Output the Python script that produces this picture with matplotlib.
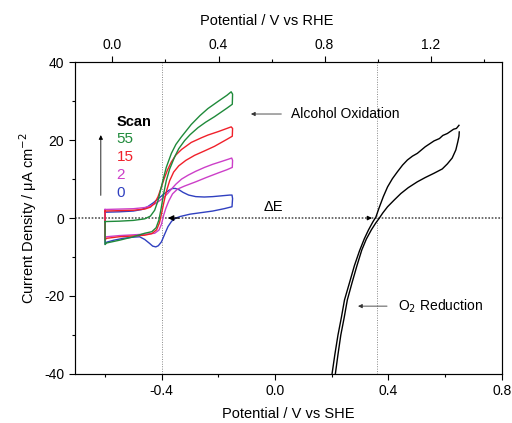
import matplotlib
matplotlib.use("Agg")
import matplotlib.pyplot as plt
from matplotlib.ticker import MultipleLocator

plt.rcParams['font.family'] = ['Liberation Sans', 'DejaVu Sans']
plt.rcParams['axes.unicode_minus'] = False

# CV loops (V vs SHE, uA cm-2): anodic sweep, then cathodic sweep back
scan0_x = [-0.600, -0.550, -0.500, -0.470, -0.450, -0.430, -0.410, -0.390, -0.375, -0.362, -0.352, -0.340,
           -0.325, -0.305, -0.280, -0.250, -0.220, -0.190, -0.160, -0.152, -0.150, -0.152, -0.180, -0.220,
           -0.260, -0.300, -0.335, -0.350, -0.365, -0.378, -0.390, -0.401, -0.412, -0.421, -0.432, -0.443,
           -0.460, -0.478, -0.500, -0.536, -0.570, -0.595, -0.600, -0.600]
scan0_y = [1.5, 1.6, 1.8, 2.2, 2.9, 3.9, 5.1, 6.3, 7.1, 7.6, 7.6, 7.3,
           6.6, 5.9, 5.5, 5.4, 5.5, 5.7, 5.9, 5.9, 5.0, 2.9, 2.4, 1.8,
           1.4, 1.0, 0.4, 0.0, -0.8, -2.2, -4.2, -6.1, -7.1, -7.4, -7.2, -6.5,
           -5.5, -4.8, -4.9, -5.2, -5.7, -6.2, -6.7, 1.5]

scan2_x = [-0.600, -0.550, -0.500, -0.460, -0.440, -0.420, -0.405, -0.390, -0.378, -0.365, -0.350, -0.330,
           -0.307, -0.280, -0.249, -0.220, -0.190, -0.165, -0.153, -0.150, -0.151, -0.170, -0.200, -0.243,
           -0.280, -0.320, -0.345, -0.362, -0.375, -0.385, -0.393, -0.401, -0.410, -0.425, -0.450, -0.500,
           -0.550, -0.595, -0.600, -0.600]
scan2_y = [2.2, 2.3, 2.4, 2.7, 3.1, 3.8, 4.6, 5.5, 6.4, 7.5, 8.7, 10.0,
           11.0, 12.0, 13.0, 13.8, 14.5, 15.1, 15.4, 14.8, 13.0, 12.4, 11.6, 10.4,
           9.3, 8.2, 7.4, 6.2, 4.4, 2.6, 0.8, -1.6, -3.1, -3.9, -4.1, -4.3,
           -4.5, -4.8, -5.0, 2.2]

scan15_x = [-0.600, -0.550, -0.500, -0.460, -0.440, -0.425, -0.413, -0.402, -0.392, -0.380, -0.366, -0.350,
            -0.330, -0.296, -0.260, -0.237, -0.200, -0.170, -0.155, -0.150, -0.151, -0.170, -0.214, -0.250,
            -0.284, -0.315, -0.340, -0.358, -0.372, -0.383, -0.392, -0.400, -0.408, -0.418, -0.435, -0.460,
            -0.500, -0.550, -0.595, -0.600, -0.600]
scan15_y = [1.8, 1.9, 2.0, 2.3, 2.8, 3.8, 5.5, 7.8, 10.0, 12.3, 14.4, 16.2,
            17.6, 19.4, 20.6, 21.3, 22.2, 23.0, 23.4, 23.0, 21.0, 20.2, 18.4, 17.2,
            16.1, 14.8, 13.4, 11.8, 9.6, 7.0, 4.2, 1.4, -1.2, -3.0, -4.0, -4.4,
            -4.6, -4.8, -5.2, -5.6, 1.8]

scan55_x = [-0.600, -0.550, -0.500, -0.460, -0.440, -0.425, -0.413, -0.403, -0.393, -0.384, -0.366, -0.350,
            -0.331, -0.296, -0.265, -0.237, -0.200, -0.170, -0.155, -0.150, -0.151, -0.170, -0.214, -0.245,
            -0.272, -0.300, -0.319, -0.340, -0.355, -0.372, -0.384, -0.394, -0.402, -0.410, -0.420, -0.435,
            -0.460, -0.500, -0.550, -0.595, -0.600, -0.600]
scan55_y = [-0.9, -0.8, -0.6, -0.2, 0.5, 2.0, 4.5, 7.5, 10.5, 13.0, 16.6, 18.9,
            20.8, 24.0, 26.3, 28.1, 30.0, 31.5, 32.4, 31.8, 29.2, 28.2, 26.0, 24.6,
            23.2, 21.4, 19.9, 17.8, 15.6, 12.6, 9.6, 6.0, 2.5, -0.5, -2.5, -3.5,
            -3.9, -4.8, -5.7, -6.4, -6.8, -0.9]

# O2 reduction, two sweeps
orr_a_x = [0.197, 0.211, 0.222, 0.234, 0.245, 0.263, 0.280, 0.298, 0.315, 0.330, 0.345, 0.356, 0.367,
           0.382, 0.397, 0.414, 0.432, 0.450, 0.467, 0.485, 0.502, 0.530, 0.561, 0.580, 0.592, 0.608,
           0.630, 0.640, 0.649]
orr_a_y = [-42, -35, -30, -25.5, -21, -16.5, -12.2, -8.4, -5.3, -3.0, -1.0, 0.3, 2.6,
           5.5, 8.0, 10.1, 11.9, 13.6, 14.9, 15.9, 16.6, 18.3, 19.8, 20.4, 21.2, 21.7,
           22.8, 23.0, 23.8]
orr_b_x = [0.209, 0.222, 0.232, 0.244, 0.255, 0.272, 0.289, 0.306, 0.322, 0.340, 0.355, 0.367, 0.380,
           0.397, 0.420, 0.444, 0.470, 0.502, 0.530, 0.561, 0.590, 0.608, 0.625, 0.638, 0.645, 0.649, 0.650]
orr_b_y = [-42, -35, -30, -25.5, -21, -16.5, -12.2, -8.2, -5.4, -3.0, -1.3, -0.1, 1.3,
           2.9, 4.6, 6.3, 7.8, 9.3, 10.4, 11.5, 12.6, 13.9, 15.4, 17.5, 19.6, 21.0, 22.1]

scan_labels = ['55', '15', '2', '0']
scan_colors = ['#1f8a3a', '#f0202a', '#cc3fc8', '#3040c0']

fig = plt.figure(figsize=(5.12, 4.23), dpi=100)
ax = fig.add_axes([0.146, 0.116, 0.834, 0.737])

ax.axhline(0, color='#555555', lw=1.2, ls=(0, (1, 1)), zorder=1)
ax.axvline(-0.4, color='#888888', lw=0.7, ls=(0, (1, 1.5)), zorder=1)
ax.axvline(0.359, color='#888888', lw=0.7, ls=(0, (1, 1.5)), zorder=1)

for xs, ys, c in [(scan0_x, scan0_y, scan_colors[3]), (scan2_x, scan2_y, scan_colors[2]),
                  (scan15_x, scan15_y, scan_colors[1]), (scan55_x, scan55_y, scan_colors[0])]:
    ax.plot(xs, ys, color=c, lw=1.0)
ax.plot(orr_a_x, orr_a_y, color='black', lw=1.0)
ax.plot(orr_b_x, orr_b_y, color='black', lw=1.0)

ax.set_xlim(-0.707, 0.8)
ax.set_ylim(-40, 40)
ax.xaxis.set_major_locator(MultipleLocator(0.4))
ax.xaxis.set_minor_locator(MultipleLocator(0.2))
ax.yaxis.set_major_locator(MultipleLocator(20))
ax.yaxis.set_minor_locator(MultipleLocator(10))
ax.xaxis.set_major_formatter(lambda v, p: f"{v:.1f}")
ax.tick_params(which='major', direction='out', length=4, width=0.8, labelsize=10)
ax.tick_params(which='minor', direction='out', length=2.5, width=0.8)
ax.set_xlabel("Potential / V vs SHE", fontsize=10.5, labelpad=6)
ax.set_ylabel("Current Density / μA cm$^{-2}$", fontsize=10.5, labelpad=4)
for s in ax.spines.values():
    s.set_color('#444444')

ax2 = ax.twiny()
ax2.set_xlim(-0.142, 1.468)
ax2.xaxis.set_major_locator(MultipleLocator(0.4))
ax2.xaxis.set_minor_locator(MultipleLocator(0.2))
ax2.xaxis.set_major_formatter(lambda v, p: f"{v:.1f}")
ax2.tick_params(which='major', direction='out', length=4, width=0.8, labelsize=10)
ax2.tick_params(which='minor', direction='out', length=2.5, width=0.8)
ax2.set_xlabel("Potential / V vs RHE", fontsize=10.5, labelpad=8)
ax2.xaxis.set_label_coords(0.45, 1.12)

# scan legend
ax.text(-0.56, 24.6, "Scan", fontsize=10.5, fontweight='bold', va='center')
for i, (lab, c) in enumerate(zip(scan_labels, scan_colors)):
    ax.text(-0.56, 20.3 - 4.6 * i, lab, color=c, fontsize=11, va='center')
ax.annotate('', xy=(-0.615, 22.0), xytext=(-0.615, 5.1),
            arrowprops=dict(arrowstyle='-|>', color='black', lw=0.6, mutation_scale=6))

# labels and arrows
ax.annotate('', xy=(-0.095, 26.7), xytext=(0.032, 26.7),
            arrowprops=dict(arrowstyle='-|>', color='#333333', lw=0.6, mutation_scale=6))
ax.text(0.056, 26.7, "Alcohol Oxidation", fontsize=10, va='center')
ax.annotate('', xy=(0.283, -22.6), xytext=(0.405, -22.6),
            arrowprops=dict(arrowstyle='-|>', color='#333333', lw=0.6, mutation_scale=6))
ax.text(0.433, -22.6, "O$_2$ Reduction", fontsize=10, va='center')
ax.annotate('', xy=(-0.388, 0), xytext=(-0.33, 0),
            arrowprops=dict(arrowstyle='-|>', color='black', lw=0.9, mutation_scale=8))
ax.annotate('', xy=(0.352, 0), xytext=(0.32, 0),
            arrowprops=dict(arrowstyle='-|>', color='black', lw=0.9, mutation_scale=6))
ax.text(-0.007, 2.9, "ΔE", fontsize=10.5, ha='center', va='center')

fig.savefig("out.png", dpi=100)
